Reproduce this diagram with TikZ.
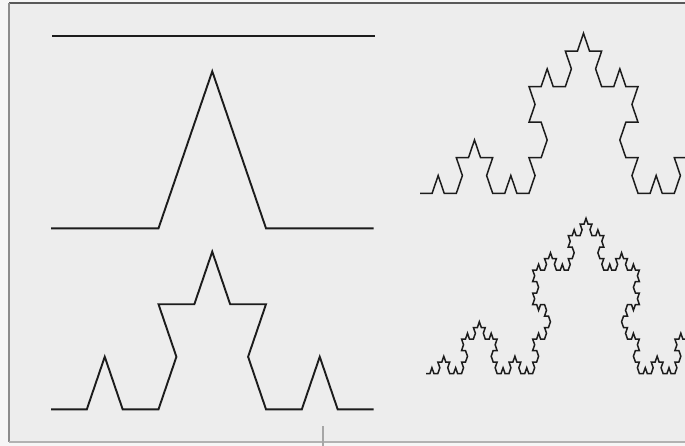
\documentclass[tikz,border=0pt]{standalone}
\definecolor{bgin}{HTML}{EDEDED}
\definecolor{bgout}{HTML}{F6F6F6}
\definecolor{ink}{HTML}{1C1C1C}
\pgfmathdeclarefunction{kt}{1}{\pgfmathparse{-60*(#1==1)+60*(#1==2)}}
\pgfkeys{/pgf/foreach/kangle/.style={evaluate=\i as \a using {kt(mod(\i,4))+kt(mod(int(\i/4),4))+kt(mod(int(\i/16),4))+kt(mod(int(\i/64),4))}}}
\tikzset{
  curveA/.style={draw=ink, line width=1.9pt, line join=miter},
  curveB/.style={draw=ink, line width=1.5pt, line join=miter}
}
\begin{document}
\begin{tikzpicture}[x=1pt,y=-1pt]
\useasboundingbox (0,0) rectangle (685,445);
% background and frame
\fill[bgout] (-2,-2) rectangle (690,450);
\fill[bgin] (9,3) rectangle (690,442);
\draw[color=black!65, line width=1.6pt] (9,3) -- (690,3);
\draw[color=black!45, line width=1.2pt] (9,3) -- (9,442);
\draw[color=black!30, line width=1.2pt] (9,442) -- (690,442);
\draw[color=black!35, line width=1.2pt] (323,426) -- (323,450);
% level 0
\coordinate (a0) at (52,35.7);
\coordinate (b0) at (374.5,35.7);
\draw[curveA, line width=2.3pt] (a0) -- (b0);
% level 1
\begin{scope}[shift={(51,228.3)}, yscale=1.686]
\coordinate (a1) at (0,0);
\draw[curveA] (a1) \foreach \i [kangle] in {0,...,3} {-- ++(\a:107.5)};
\end{scope}
% level 2
\begin{scope}[shift={(51,409.3)}, yscale=1.693]
\coordinate (a2) at (0,0);
\draw[curveA] (a2) \foreach \i [kangle] in {0,...,15} {-- ++(\a:35.833)};
\end{scope}
% level 3 (runs past the right edge)
\begin{scope}
\clip (9,3) rectangle (690,442);
\begin{scope}[shift={(420,193.3)}, yscale=1.695]
\coordinate (a3) at (0,0);
\draw[curveB] (a3) \foreach \i [kangle] in {0,...,63} {-- ++(\a:12.111)};
\end{scope}
% level 4
\begin{scope}[shift={(426,373.5)}, yscale=1.68]
\coordinate (a4) at (0,0);
\draw[curveB] (a4) \foreach \i [kangle] in {0,...,255} {-- ++(\a:3.951)};
\end{scope}
\end{scope}
\end{tikzpicture}
\end{document}
